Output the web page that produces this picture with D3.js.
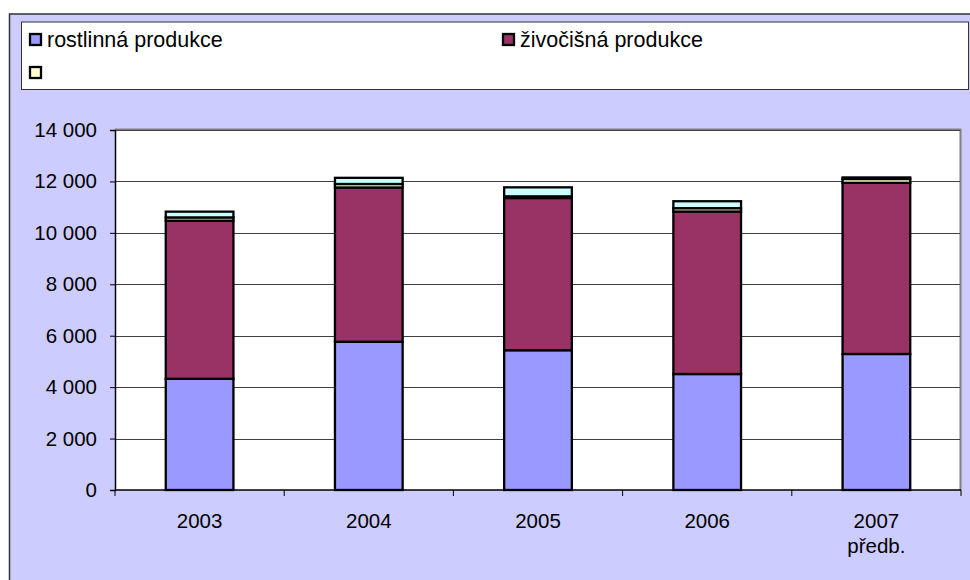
<!DOCTYPE html>
<html><head><meta charset="utf-8">
<script src="https://cdn.jsdelivr.net/npm/d3@7"></script>
<style>
html,body{margin:0;padding:0;background:#fff;}
svg{display:block;font-family:"Liberation Sans",Arial,sans-serif;}
</style></head>
<body>
<svg id="chart" width="970" height="580"></svg>
<script>
// ---- data ----
const categories = ["2003", "2004", "2005", "2006", "2007"];
const categoryLabels = [["2003"], ["2004"], ["2005"], ["2006"], ["2007", "předb."]];
const rostlinna = [4325, 5765, 5435, 4510, 5290];
const zivocisna = [6150, 6000, 5920, 6320, 6655];
const serie3 = [125, 135, 65, 130, 150];
const serie4 = [225, 240, 350, 270, 60];
const seriesNames = ["rostlinná produkce", "živočišná produkce", "", ""];
const seriesColors = ["#9999FF", "#993366", "#FFFFCC", "#CCFFFF"];
const yTicks = [0, 2000, 4000, 6000, 8000, 10000, 12000, 14000];

const svg = d3.select("#chart");
const W = 970, H = 580;

// outer chart area
svg.append("rect").attr("x", 9.5).attr("y", 14).attr("width", W + 10).attr("height", H + 10)
  .attr("fill", "#CCCCFF").attr("stroke", "#333").attr("stroke-width", 1.5);

// plot area
const L = 115, R = 961, T = 130, B = 490;
svg.append("rect").attr("x", L).attr("y", T).attr("width", R - L).attr("height", B - T).attr("fill", "#fff");
svg.append("path").attr("d", `M${L},${T - 0.5}H${R - 0.5}V${B}`).attr("fill", "none")
  .attr("stroke", "#808080").attr("stroke-width", 2);

const x = d3.scaleBand().domain(categories).range([L, R]).paddingInner(0.6).paddingOuter(0.3);
const y = d3.scaleLinear().domain([0, 14000]).range([B, T]);

// gridlines
svg.append("g").selectAll("line").data(yTicks.filter(d => d > 0)).join("line")
  .attr("x1", L).attr("x2", R - 1).attr("y1", d => Math.round(y(d)) + 0.5).attr("y2", d => Math.round(y(d)) + 0.5)
  .attr("stroke", "#404040").attr("stroke-width", 1);

// stacked bars
const table = categories.map((c, i) => ({cat: c, s0: rostlinna[i], s1: zivocisna[i], s2: serie3[i], s3: serie4[i]}));
const stack = d3.stack().keys(["s0", "s1", "s2", "s3"])(table);
svg.append("g").selectAll("g").data(stack).join("g")
  .attr("fill", (d, i) => seriesColors[i])
  .selectAll("rect").data(d => d).join("rect")
  .attr("x", d => x(d.data.cat)).attr("width", x.bandwidth())
  .attr("y", d => y(d[1])).attr("height", d => y(d[0]) - y(d[1]))
  .attr("stroke", "#000").attr("stroke-width", 2.3);

// y axis
const fmt = d3.formatLocale({decimal: ",", thousands: " ", grouping: [3], currency: ["", ""]}).format(",d");
const yAxis = svg.append("g").attr("transform", `translate(${L},0)`)
  .call(d3.axisLeft(y).tickValues(yTicks).tickFormat(fmt).tickSize(5).tickPadding(13));
yAxis.select(".domain").attr("stroke", "#000").attr("stroke-width", 1.5);
yAxis.selectAll(".tick line").attr("stroke", "#000");
yAxis.selectAll("text").attr("font-size", 20.5).attr("fill", "#000")
  .attr("font-family", "'Liberation Sans',Arial,sans-serif");

// x axis
const step = x.step();
const bounds = categories.map(c => x(c) - step * 0.3).concat([R]);
const xAxisG = svg.append("g");
xAxisG.append("line").attr("x1", L).attr("x2", R).attr("y1", B).attr("y2", B).attr("stroke", "#000").attr("stroke-width", 1.5);
xAxisG.selectAll("line.tk").data(bounds).join("line").attr("class", "tk")
  .attr("x1", d => d).attr("x2", d => d).attr("y1", B).attr("y2", B + 6).attr("stroke", "#000");
const xl = xAxisG.selectAll("text").data(categories).join("text")
  .attr("x", d => x(d) + x.bandwidth() / 2).attr("y", 528)
  .attr("text-anchor", "middle").attr("font-size", 20.5).attr("fill", "#000");
xl.selectAll("tspan").data((d, i) => categoryLabels[i]).join("tspan")
  .attr("x", function() { return this.parentNode.getAttribute("x"); })
  .attr("dy", (d, j) => j === 0 ? 0 : 25).text(d => d);

// legend
svg.append("rect").attr("x", 21.5).attr("y", 22).attr("width", 947).attr("height", 67.5)
  .attr("fill", "#fff").attr("stroke", "#333").attr("stroke-width", 1);
const legendItems = [
  {i: 0, x: 29, y: 33},
  {i: 1, x: 502, y: 33},
  {i: 2, x: 29, y: 66}
];
const lg = svg.append("g").selectAll("g").data(legendItems).join("g");
lg.append("rect").attr("x", d => d.x + 1).attr("y", d => d.y + 1).attr("width", 11).attr("height", 11)
  .attr("fill", d => seriesColors[d.i]).attr("stroke", "#000").attr("stroke-width", 2.3);
lg.append("text").attr("x", d => d.x + 18).attr("y", d => d.y + 13.5)
  .attr("font-size", 21.5).attr("fill", "#000").text(d => seriesNames[d.i]);
</script>
</body></html>
